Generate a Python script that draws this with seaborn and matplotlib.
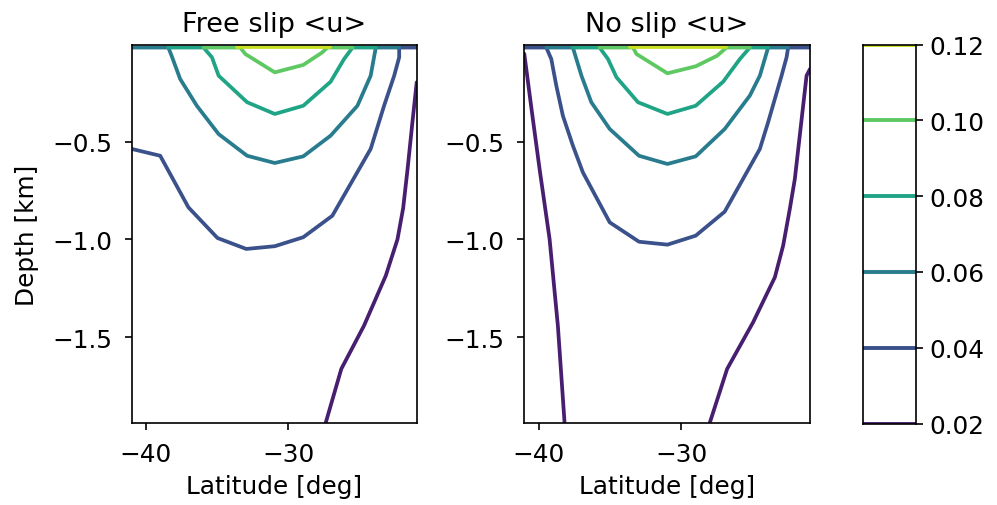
import matplotlib
matplotlib.use("Agg")
import matplotlib.pyplot as plt
from matplotlib.colors import Normalize
import numpy as np
import pandas as pd
import seaborn as sns

# ---------------- data ----------------
levels = [0.02, 0.04, 0.06, 0.08, 0.10, 0.12]
level_labels = ["0.02", "0.04", "0.06", "0.08", "0.10", "0.12"]
titles = ["Free slip <u>", "No slip <u>"]
xticks = [-40, -30]
yticks = [-0.5, -1.0, -1.5]

# Free slip contours (latitude [deg], depth [km])
free_lat_002 = [-21.0, -21.3, -21.64, -21.95, -22.35, -23.17, -24.7, -26.29, -27.39]
free_dep_002 = [-0.196, -0.40, -0.64, -0.84, -1.0, -1.186, -1.442, -1.663, -1.94]
free_lat_004 = [-41.0, -39.0, -37.02, -34.98, -32.96, -30.96, -28.96, -26.92, -24.23, -23.29, -22.58, -22.23, -22.23, -21.0]
free_dep_004 = [-0.537, -0.572, -0.836, -0.993, -1.049, -1.035, -0.989, -0.879, -0.537, -0.316, -0.162, -0.068, -0.018, -0.018]
free_lat_006 = [-41.0, -38.43, -38.2, -37.6, -36.43, -34.9, -32.9, -30.96, -28.96, -27.04, -25.16, -24.23, -23.87, -22.23]
free_dep_006 = [-0.018, -0.018, -0.06, -0.179, -0.316, -0.461, -0.572, -0.609, -0.575, -0.469, -0.316, -0.162, -0.018, -0.018]
free_lat_008 = [-38.43, -35.96, -35.37, -34.9, -32.9, -30.96, -28.96, -27.04, -26.1, -25.5, -23.87]
free_dep_008 = [-0.018, -0.018, -0.068, -0.162, -0.298, -0.358, -0.316, -0.193, -0.077, -0.018, -0.018]
free_lat_010 = [-35.96, -33.38, -33.03, -30.96, -28.96, -27.63, -27.27, -25.5]
free_dep_010 = [-0.018, -0.018, -0.051, -0.145, -0.107, -0.043, -0.018, -0.018]
free_lat_012 = [-33.6, -27.1]
free_dep_012 = [-0.016, -0.016]

# No slip contours
noslip_lat_002a = [-41.0, -40.5, -39.93, -39.23, -38.65, -38.18]
noslip_dep_002a = [-0.05, -0.33, -0.64, -0.998, -1.442, -1.94]
noslip_lat_002b = [-21.0, -21.24, -22.06, -22.41, -22.88, -23.46, -24.98, -26.8, -28.02]
noslip_dep_002b = [-0.128, -0.162, -0.69, -0.843, -1.032, -1.194, -1.424, -1.663, -1.94]
noslip_lat_004 = [-41.0, -39.46, -39.11, -38.76, -38.3, -37.6, -36.9, -35.02, -32.97, -30.98, -29.0, -26.97, -24.51, -23.93, -22.99, -22.64, -22.53, -21.0]
noslip_dep_004 = [-0.018, -0.018, -0.077, -0.213, -0.367, -0.52, -0.657, -0.913, -1.012, -1.027, -0.981, -0.858, -0.537, -0.40, -0.162, -0.068, -0.018, -0.018]
noslip_lat_006 = [-39.46, -37.6, -37.0, -36.31, -35.02, -32.97, -30.98, -29.0, -26.97, -25.21, -24.51, -23.93, -22.53]
noslip_dep_006 = [-0.018, -0.018, -0.162, -0.298, -0.435, -0.572, -0.614, -0.575, -0.435, -0.264, -0.162, -0.018, -0.018]
noslip_lat_008 = [-37.6, -35.73, -35.14, -34.55, -33.04, -30.98, -29.0, -27.08, -25.91, -25.21, -23.93]
noslip_dep_008 = [-0.018, -0.018, -0.077, -0.17, -0.298, -0.358, -0.316, -0.193, -0.077, -0.018, -0.018]
noslip_lat_010 = [-35.73, -33.39, -33.15, -30.98, -29.0, -27.5, -26.85, -25.21]
noslip_dep_010 = [-0.018, -0.018, -0.051, -0.15, -0.114, -0.06, -0.018, -0.018]
noslip_lat_012 = [-33.6, -26.9]
noslip_dep_012 = [-0.016, -0.016]

panels = {
    0: [("0.02", "a", free_lat_002, free_dep_002),
        ("0.04", "a", free_lat_004, free_dep_004),
        ("0.06", "a", free_lat_006, free_dep_006),
        ("0.08", "a", free_lat_008, free_dep_008),
        ("0.10", "a", free_lat_010, free_dep_010),
        ("0.12", "a", free_lat_012, free_dep_012)],
    1: [("0.02", "a", noslip_lat_002a, noslip_dep_002a),
        ("0.02", "b", noslip_lat_002b, noslip_dep_002b),
        ("0.04", "a", noslip_lat_004, noslip_dep_004),
        ("0.06", "a", noslip_lat_006, noslip_dep_006),
        ("0.08", "a", noslip_lat_008, noslip_dep_008),
        ("0.10", "a", noslip_lat_010, noslip_dep_010),
        ("0.12", "a", noslip_lat_012, noslip_dep_012)],
}

# ---------------- styling ----------------
sns.set_theme(style="ticks")
FS = 17.8
plt.rcParams.update({
    "font.family": ["DejaVu Sans"],
    "font.size": FS,
    "axes.edgecolor": "black",
    "axes.linewidth": 1.2,
    "xtick.color": "black",
    "ytick.color": "black",
    "xtick.major.width": 1.2,
    "ytick.major.width": 1.2,
    "xtick.major.size": 5.2,
    "ytick.major.size": 5.2,
    "text.color": "black",
    "axes.labelcolor": "black",
})

cmap = plt.get_cmap("viridis")
norm = Normalize(vmin=0.01, vmax=0.13)
palette = {lab: cmap(norm(v)) for lab, v in zip(level_labels, levels)}

W, H = 997, 506
fig = plt.figure(figsize=(W / 100, H / 100), dpi=100)
ax_pos = [
    [131.7 / W, (H - 424) / H, 285 / W, 378 / H],
    [524.3 / W, (H - 424) / H, 285.7 / W, 378 / H],
]

for p in (0, 1):
    ax = fig.add_axes(ax_pos[p])
    rows = []
    for lab, seg, lats, deps in panels[p]:
        for i, (la, de) in enumerate(zip(lats, deps)):
            rows.append({"level": lab, "seg": lab + seg, "lat": la, "depth": de, "i": i})
    df = pd.DataFrame(rows)
    sns.lineplot(data=df, x="lat", y="depth", hue="level", hue_order=level_labels,
                 units="seg", estimator=None, sort=False, palette=palette,
                 linewidth=2.7, legend=False, ax=ax)
    ax.set_xlim(-41, -21)
    ax.set_ylim(-1.94, -0.005)
    ax.set_xticks(xticks)
    ax.set_yticks(yticks)
    ax.set_xticklabels([f"\u2212{abs(t)}" for t in xticks], fontsize=FS)
    ax.set_yticklabels([f"\u2212{abs(t):.1f}" for t in yticks], fontsize=FS)
    ax.tick_params(axis="x", pad=8.5)
    ax.tick_params(axis="y", pad=9)
    ax.set_xlabel("Latitude [deg]", fontsize=FS, labelpad=6)
    ax.set_ylabel("Depth [km]" if p == 0 else "", fontsize=FS, labelpad=9)
    ax.set_title(titles[p], fontsize=19.5, pad=10)
    for s in ax.spines.values():
        s.set_visible(True)
        s.set_linewidth(1.2)

# colorbar emulation (line contour colorbar)
cax = fig.add_axes([862.5 / W, (H - 424.5) / H, 53 / W, 379 / H])
cax.set_xlim(0, 1)
cax.set_ylim(levels[0], levels[-1])
cax.hlines(levels, 0, 1, colors=[palette[l] for l in level_labels], linewidth=2.8)
cax.set_xticks([])
cax.yaxis.tick_right()
cax.set_yticks(levels)
cax.set_yticklabels(level_labels, fontsize=FS)
cax.tick_params(pad=5)
for s in cax.spines.values():
    s.set_visible(True)
    s.set_linewidth(1.2)

fig.savefig("out.png", dpi=100)
